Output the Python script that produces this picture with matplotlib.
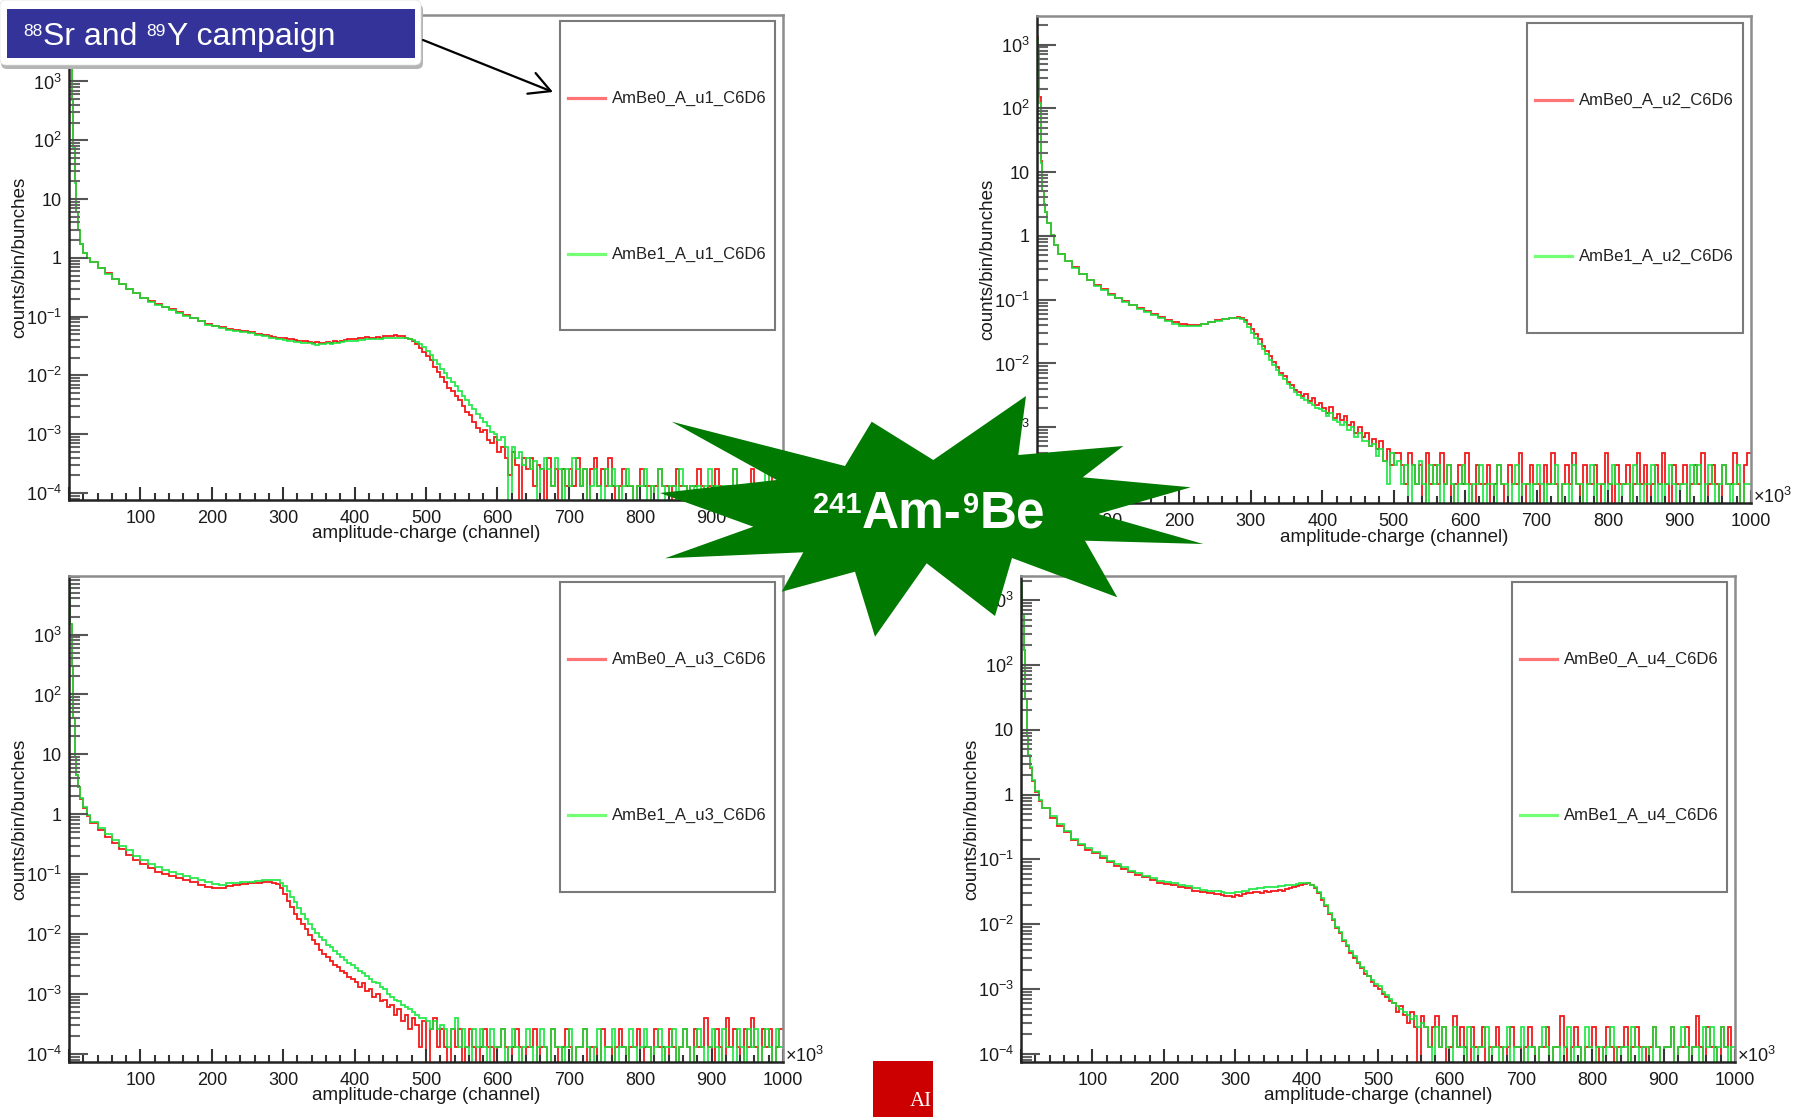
import numpy as np
import matplotlib
matplotlib.use('Agg')
import matplotlib.pyplot as plt
from matplotlib.patches import Polygon, Rectangle, FancyBboxPatch, FancyArrowPatch
from matplotlib.lines import Line2D
from matplotlib.transforms import Affine2D
from matplotlib.ticker import MultipleLocator, LogLocator, FuncFormatter, NullFormatter

plt.rcParams['font.family'] = ['Liberation Sans', 'DejaVu Sans']
plt.rcParams['mathtext.fontset'] = 'custom'
plt.rcParams['mathtext.rm'] = 'Liberation Sans'
plt.rcParams['mathtext.it'] = 'Liberation Sans:italic'
plt.rcParams['mathtext.bf'] = 'Liberation Sans:bold'

# ---------------- data ----------------
# bin edges (channels): fine head, 10-channel bins to 280, 5-channel bins to 1000
EDGES = ([0, 2, 4, 6, 8, 10, 12, 15, 20, 25, 30]
         + list(range(40, 281, 10)) + list(range(285, 1001, 5)))

X_LABEL = 'amplitude-charge (channel)'
Y_LABEL = 'counts/bin/bunches'
RED_LABELS = ['AmBe0_A_u1_C6D6', 'AmBe0_A_u2_C6D6', 'AmBe0_A_u3_C6D6', 'AmBe0_A_u4_C6D6']
GREEN_LABELS = ['AmBe1_A_u1_C6D6', 'AmBe1_A_u2_C6D6', 'AmBe1_A_u3_C6D6', 'AmBe1_A_u4_C6D6']
Y_LIMS = [(7.6e-5, 1.35e4), (6.5e-5, 2.8e3), (7.3e-5, 9.5e3), (7.5e-5, 2.35e3)]

U1_RED = [4000, 2000, 500, 80, 20, 6, 3, 1.7, 1.2, 1.0,
          0.85, 0.68, 0.55, 0.44, 0.36, 0.30, 0.25, 0.21, 0.185, 0.165, 0.148, 0.133, 0.12,
          0.107, 0.095, 0.085, 0.076, 0.07, 0.066, 0.062, 0.059, 0.056, 0.054, 0.051, 0.048,
          0.046, 0.045, 0.044, 0.044, 0.043, 0.041, 0.041, 0.040, 0.039, 0.039, 0.038, 0.037,
          0.036, 0.037, 0.036, 0.035, 0.037, 0.036, 0.038, 0.037, 0.039, 0.040, 0.041, 0.042,
          0.042, 0.043, 0.043, 0.045, 0.044, 0.043, 0.045, 0.044, 0.046, 0.047, 0.046, 0.048,
          0.046, 0.046, 0.044, 0.041, 0.038, 0.034, 0.029, 0.025, 0.021, 0.018, 0.014, 0.0115,
          0.0095, 0.0078, 0.0062, 0.0055, 0.0045, 0.0038, 0.003, 0.0024, 0.0021, 0.0016, 0.0013, 0.0011,
          0.0012, 8e-4, 7e-4, 9e-4, 5e-4, 6e-4, 4e-4, 2e-4, 5e-4, 3e-4, 0, 4e-4,
          2.6e-4, 4e-4, 1.3e-4, 3e-4, 2.6e-4, 0, 3.9e-4, 1.3e-4, 2.6e-4, 0, 2.6e-4, 1.3e-4,
          2.6e-4, 1.3e-4, 3.9e-4, 1.3e-4, 2.6e-4, 0, 2.6e-4, 3.9e-4, 1.3e-4, 2.6e-4, 1.3e-4, 3.9e-4,
          1.3e-4, 0, 1.3e-4, 2.6e-4, 1.3e-4, 1.3e-4, 0, 1.3e-4, 2.6e-4, 1.3e-4, 1.3e-4, 0,
          1.3e-4, 2.6e-4, 1.3e-4, 1.3e-4, 0, 1.3e-4, 2.6e-4, 1.3e-4, 1.3e-4, 0, 1.3e-4, 1.3e-4,
          2.6e-4, 1.3e-4, 0, 1.3e-4, 1.3e-4, 2.6e-4, 1.3e-4, 0, 1.3e-4, 1.3e-4, 2.6e-4, 1.3e-4,
          0, 1.3e-4, 1.3e-4, 2.6e-4, 1.3e-4, 1.3e-4, 0, 1.3e-4, 2.6e-4, 1.3e-4, 1.3e-4, 0]
U1_GREEN = [4000, 1900, 480, 78, 19, 6, 3, 1.7, 1.2, 1.0,
            0.85, 0.67, 0.54, 0.44, 0.36, 0.30, 0.25, 0.21, 0.18, 0.16, 0.145, 0.13, 0.117,
            0.104, 0.093, 0.083, 0.073, 0.068, 0.064, 0.060, 0.057, 0.054, 0.052, 0.049, 0.046,
            0.044, 0.043, 0.042, 0.041, 0.040, 0.039, 0.038, 0.037, 0.037, 0.036, 0.035, 0.035,
            0.034, 0.033, 0.034, 0.034, 0.035, 0.034, 0.036, 0.035, 0.037, 0.038, 0.038, 0.039,
            0.039, 0.040, 0.040, 0.041, 0.041, 0.041, 0.042, 0.042, 0.043, 0.043, 0.044, 0.044,
            0.044, 0.044, 0.043, 0.042, 0.040, 0.037, 0.034, 0.030, 0.026, 0.022, 0.018, 0.0155,
            0.013, 0.011, 0.0092, 0.0078, 0.0065, 0.0055, 0.0045, 0.0038, 0.0032, 0.0027, 0.0022, 0.0019,
            0.0016, 0.0014, 0.0011, 0.001, 8e-4, 9e-4, 6e-4, 0, 6e-4, 4e-4, 5e-4, 3e-4,
            4e-4, 2.6e-4, 3.5e-4, 0, 2.6e-4, 3.9e-4, 2.6e-4, 1.3e-4, 3.9e-4, 2.6e-4, 0, 2.6e-4,
            1.3e-4, 3.9e-4, 2.6e-4, 1.3e-4, 2.6e-4, 0, 1.3e-4, 2.6e-4, 1.3e-4, 0, 2.6e-4, 1.3e-4,
            2.6e-4, 1.3e-4, 0, 1.3e-4, 2.6e-4, 1.3e-4, 0, 1.3e-4, 1.3e-4, 2.6e-4, 0, 1.3e-4,
            0, 2.6e-4, 1.3e-4, 0, 1.3e-4, 1.3e-4, 0, 2.6e-4, 1.3e-4, 0, 1.3e-4, 0,
            1.3e-4, 0, 1.3e-4, 2.6e-4, 0, 1.3e-4, 0, 1.3e-4, 1.3e-4, 0, 2.6e-4, 0,
            1.3e-4, 0, 1.3e-4, 0, 1.3e-4, 1.3e-4, 0, 2.6e-4, 0, 1.3e-4, 0, 1.3e-4]

U2_RED = [1300, 800, 150, 15, 5, 3.2, 2.4, 1.6, 1.05, 0.72,
          0.52, 0.40, 0.32, 0.25, 0.20, 0.17, 0.145, 0.125, 0.108, 0.095, 0.084, 0.074, 0.066,
          0.059, 0.053, 0.048, 0.044, 0.041, 0.040, 0.040, 0.042, 0.045, 0.048, 0.050, 0.052,
          0.053, 0.052, 0.048, 0.042, 0.035, 0.029, 0.024, 0.019, 0.0155, 0.013, 0.0105, 0.0088,
          0.0072, 0.0064, 0.0052, 0.0046, 0.0039, 0.0036, 0.0031, 0.0033, 0.0026, 0.0029, 0.0022, 0.0024,
          0.002, 0.0017, 0.0021, 0.0014, 0.0016, 0.0013, 0.0015, 0.0011, 0.0012, 8e-4, 0.001, 7e-4,
          8e-4, 5e-4, 6.5e-4, 4.5e-4, 6e-4, 3e-4, 4.5e-4, 2.6e-4, 4e-4, 3.9e-4, 2.6e-4, 1.3e-4,
          3.9e-4, 2.6e-4, 1.3e-4, 2.6e-4, 0, 3.9e-4, 1.3e-4, 2.6e-4, 1.3e-4, 3.9e-4, 1.3e-4, 2.6e-4,
          0, 1.3e-4, 2.6e-4, 1.3e-4, 3.9e-4, 1.3e-4, 0, 2.6e-4, 1.3e-4, 1.3e-4, 2.6e-4, 0,
          1.3e-4, 2.6e-4, 1.3e-4, 0, 2.6e-4, 1.3e-4, 1.3e-4, 3.9e-4, 0, 1.3e-4, 2.6e-4, 1.3e-4,
          1.3e-4, 0, 2.6e-4, 1.3e-4, 3.9e-4, 1.3e-4, 0, 1.3e-4, 2.6e-4, 1.3e-4, 3.9e-4, 1.3e-4,
          0, 2.6e-4, 1.3e-4, 1.3e-4, 2.6e-4, 0, 1.3e-4, 3.9e-4, 1.3e-4, 0, 2.6e-4, 1.3e-4,
          1.3e-4, 2.6e-4, 0, 1.3e-4, 3.9e-4, 1.3e-4, 2.6e-4, 0, 1.3e-4, 2.6e-4, 1.3e-4, 3.9e-4,
          1.3e-4, 0, 2.6e-4, 1.3e-4, 1.3e-4, 2.6e-4, 0, 1.3e-4, 2.6e-4, 1.3e-4, 3.9e-4, 0,
          1.3e-4, 2.6e-4, 1.3e-4, 0, 2.6e-4, 1.3e-4, 1.3e-4, 3.9e-4, 1.3e-4, 0, 2.6e-4, 3.9e-4]
U2_GREEN = [1200, 900, 120, 14, 5, 3.2, 2.4, 1.6, 1.05, 0.72,
            0.52, 0.40, 0.31, 0.25, 0.20, 0.165, 0.14, 0.12, 0.105, 0.092, 0.082, 0.072, 0.064,
            0.057, 0.051, 0.046, 0.042, 0.039, 0.038, 0.039, 0.041, 0.044, 0.047, 0.049, 0.051,
            0.051, 0.049, 0.044, 0.037, 0.03, 0.025, 0.02, 0.017, 0.014, 0.0115, 0.0095, 0.008,
            0.0066, 0.0058, 0.0048, 0.0042, 0.0036, 0.0032, 0.0029, 0.0027, 0.0024, 0.0022, 0.002, 0.0019,
            0.0018, 0.0015, 0.0017, 0.0013, 0.0012, 0.0011, 0.0012, 9e-4, 0.001, 7e-4, 8e-4, 6e-4,
            6e-4, 5e-4, 5.5e-4, 3.5e-4, 4.5e-4, 3e-4, 1.3e-4, 3.9e-4, 2.6e-4, 3e-4, 1.3e-4, 2.6e-4,
            0, 2.6e-4, 1.3e-4, 3e-4, 1.3e-4, 0, 2.6e-4, 1.3e-4, 2.6e-4, 0, 1.3e-4, 2.6e-4,
            1.3e-4, 0, 1.3e-4, 2.6e-4, 1.3e-4, 0, 1.3e-4, 1.3e-4, 2.6e-4, 0, 1.3e-4, 1.3e-4,
            0, 2.6e-4, 1.3e-4, 1.3e-4, 0, 1.3e-4, 2.6e-4, 0, 1.3e-4, 1.3e-4, 0, 1.3e-4,
            2.6e-4, 1.3e-4, 0, 1.3e-4, 1.3e-4, 2.6e-4, 0, 1.3e-4, 1.3e-4, 0, 2.6e-4, 1.3e-4,
            1.3e-4, 0, 1.3e-4, 2.6e-4, 0, 1.3e-4, 1.3e-4, 0, 1.3e-4, 2.6e-4, 1.3e-4, 0,
            1.3e-4, 1.3e-4, 0, 2.6e-4, 1.3e-4, 0, 1.3e-4, 1.3e-4, 2.6e-4, 0, 1.3e-4, 0,
            1.3e-4, 2.6e-4, 1.3e-4, 0, 1.3e-4, 1.3e-4, 0, 2.6e-4, 1.3e-4, 2.6e-4, 0, 1.3e-4,
            2.6e-4, 1.3e-4, 0, 1.3e-4, 2.6e-4, 1.3e-4, 0, 1.3e-4, 2.6e-4, 0, 1.3e-4, 1.3e-4]

U3_RED = [6500, 1500, 300, 40, 9, 4.5, 2.8, 1.8, 1.25, 0.95,
          0.72, 0.55, 0.42, 0.33, 0.26, 0.21, 0.17, 0.145, 0.125, 0.11, 0.10, 0.092, 0.086,
          0.079, 0.073, 0.067, 0.061, 0.058, 0.059, 0.063, 0.066, 0.068, 0.070, 0.072, 0.074,
          0.073, 0.071, 0.068, 0.058, 0.046, 0.036, 0.028, 0.022, 0.018, 0.0145, 0.012, 0.0098,
          0.008, 0.0068, 0.0054, 0.0046, 0.0042, 0.0035, 0.003, 0.0028, 0.0024, 0.0022, 0.0019, 0.0018,
          0.0016, 0.0013, 0.0015, 0.0011, 0.0012, 9e-4, 0.001, 7.5e-4, 8e-4, 6e-4, 6.5e-4, 4.5e-4,
          5.5e-4, 3.5e-4, 4.5e-4, 2.6e-4, 3.9e-4, 3e-4, 1.3e-4, 3.5e-4, 0, 2.6e-4, 3.9e-4, 1.3e-4,
          2.6e-4, 1.3e-4, 0, 2.6e-4, 1.3e-4, 2.6e-4, 0, 1.3e-4, 2.6e-4, 1.3e-4, 0, 1.3e-4,
          2.6e-4, 1.3e-4, 1.3e-4, 0, 1.3e-4, 2.6e-4, 1.3e-4, 0, 1.3e-4, 2.6e-4, 1.3e-4, 0,
          1.3e-4, 1.3e-4, 2.6e-4, 0, 1.3e-4, 1.3e-4, 0, 2.6e-4, 1.3e-4, 0, 1.3e-4, 2.6e-4,
          1.3e-4, 0, 1.3e-4, 1.3e-4, 2.6e-4, 0, 1.3e-4, 1.3e-4, 0, 2.6e-4, 1.3e-4, 1.3e-4,
          0, 1.3e-4, 2.6e-4, 1.3e-4, 0, 1.3e-4, 1.3e-4, 2.6e-4, 0, 1.3e-4, 1.3e-4, 0,
          2.6e-4, 1.3e-4, 1.3e-4, 0, 2.6e-4, 1.3e-4, 0, 1.3e-4, 2.6e-4, 1.3e-4, 0, 2.6e-4,
          1.3e-4, 1.3e-4, 3.9e-4, 1.3e-4, 0, 2.6e-4, 1.3e-4, 0, 3.9e-4, 1.3e-4, 2.6e-4, 1.3e-4,
          0, 2.6e-4, 1.3e-4, 3.9e-4, 1.3e-4, 0, 2.6e-4, 1.3e-4, 2.6e-4, 0, 1.3e-4, 2.6e-4]
U3_GREEN = [6800, 1500, 300, 40, 9, 4.6, 2.9, 1.85, 1.3, 0.97,
            0.74, 0.58, 0.46, 0.37, 0.30, 0.25, 0.20, 0.17, 0.148, 0.13, 0.118, 0.108, 0.1,
            0.093, 0.087, 0.08, 0.073, 0.068, 0.067, 0.070, 0.072, 0.074, 0.075, 0.077, 0.079,
            0.080, 0.080, 0.079, 0.072, 0.063, 0.052, 0.042, 0.034, 0.027, 0.022, 0.018, 0.0148,
            0.012, 0.0105, 0.0088, 0.0078, 0.0066, 0.006, 0.0052, 0.0046, 0.0041, 0.0037, 0.0033, 0.003,
            0.0027, 0.0024, 0.0022, 0.002, 0.0018, 0.0016, 0.0015, 0.0013, 0.0012, 0.001, 9e-4, 8e-4,
            7.5e-4, 6.5e-4, 6e-4, 5.5e-4, 5e-4, 4.5e-4, 3.9e-4, 4e-4, 3.5e-4, 2.6e-4, 3.5e-4, 2.6e-4,
            3e-4, 2.6e-4, 1.3e-4, 2.6e-4, 3.9e-4, 1.3e-4, 2.6e-4, 1.3e-4, 0, 2.6e-4, 1.3e-4, 2.6e-4,
            1.3e-4, 0, 2.6e-4, 1.3e-4, 1.3e-4, 2.6e-4, 0, 1.3e-4, 2.6e-4, 1.3e-4, 0, 1.3e-4,
            2.6e-4, 1.3e-4, 0, 1.3e-4, 2.6e-4, 1.3e-4, 0, 2.6e-4, 1.3e-4, 1.3e-4, 0, 1.3e-4,
            2.6e-4, 0, 1.3e-4, 1.3e-4, 2.6e-4, 1.3e-4, 0, 1.3e-4, 2.6e-4, 0, 1.3e-4, 1.3e-4,
            2.6e-4, 0, 1.3e-4, 1.3e-4, 0, 2.6e-4, 1.3e-4, 0, 1.3e-4, 2.6e-4, 1.3e-4, 0,
            1.3e-4, 2.6e-4, 0, 1.3e-4, 1.3e-4, 2.6e-4, 0, 1.3e-4, 2.6e-4, 1.3e-4, 0, 1.3e-4,
            2.6e-4, 1.3e-4, 0, 1.3e-4, 2.6e-4, 1.3e-4, 0, 2.6e-4, 1.3e-4, 1.3e-4, 0, 2.6e-4,
            1.3e-4, 0, 2.6e-4, 1.3e-4, 2.6e-4, 0, 1.3e-4, 2.6e-4, 1.3e-4, 0, 2.6e-4, 1.3e-4]

U4_RED = [1500, 600, 170, 30, 8, 4, 2.6, 1.6, 1.1, 0.8,
          0.62, 0.44, 0.33, 0.26, 0.20, 0.165, 0.14, 0.125, 0.106, 0.09, 0.08, 0.071, 0.064,
          0.058, 0.053, 0.048, 0.044, 0.042, 0.040, 0.038, 0.036, 0.033, 0.031, 0.030, 0.029,
          0.028, 0.027, 0.027, 0.026, 0.028, 0.027, 0.029, 0.030, 0.030, 0.031, 0.031, 0.030,
          0.032, 0.031, 0.033, 0.032, 0.034, 0.033, 0.035, 0.036, 0.038, 0.039, 0.041, 0.042,
          0.043, 0.040, 0.036, 0.030, 0.024, 0.019, 0.0145, 0.0115, 0.0088, 0.0072, 0.0055, 0.0046,
          0.0036, 0.003, 0.0025, 0.0021, 0.0017, 0.0016, 0.0013, 0.0011, 0.0010, 8.5e-4, 7.5e-4, 6.5e-4,
          6e-4, 4.5e-4, 5.5e-4, 4e-4, 3e-4, 4.5e-4, 2.6e-4, 0, 3.9e-4, 2.6e-4, 1.3e-4, 2.6e-4,
          3.9e-4, 1.3e-4, 2.6e-4, 0, 1.3e-4, 3.9e-4, 1.3e-4, 2.6e-4, 1.3e-4, 0, 2.6e-4, 1.3e-4,
          1.3e-4, 2.6e-4, 0, 1.3e-4, 1.3e-4, 2.6e-4, 1.3e-4, 0, 1.3e-4, 2.6e-4, 1.3e-4, 1.3e-4,
          0, 1.3e-4, 2.6e-4, 1.3e-4, 0, 1.3e-4, 1.3e-4, 2.6e-4, 0, 1.3e-4, 1.3e-4, 3.9e-4,
          1.3e-4, 0, 1.3e-4, 2.6e-4, 1.3e-4, 0, 1.3e-4, 1.3e-4, 2.6e-4, 1.3e-4, 0, 1.3e-4,
          2.6e-4, 1.3e-4, 0, 1.3e-4, 1.3e-4, 2.6e-4, 0, 1.3e-4, 2.6e-4, 1.3e-4, 1.3e-4, 0,
          1.3e-4, 2.6e-4, 1.3e-4, 0, 1.3e-4, 1.3e-4, 2.6e-4, 0, 1.3e-4, 1.3e-4, 2.6e-4, 0,
          1.3e-4, 3.9e-4, 1.3e-4, 0, 2.6e-4, 1.3e-4, 1.3e-4, 0, 2.6e-4, 1.3e-4, 2.6e-4, 0]
U4_GREEN = [2000, 600, 170, 30, 8, 4.1, 2.7, 1.65, 1.12, 0.82,
            0.63, 0.46, 0.35, 0.27, 0.21, 0.175, 0.15, 0.132, 0.112, 0.096, 0.085, 0.075, 0.067,
            0.061, 0.056, 0.051, 0.047, 0.045, 0.043, 0.041, 0.039, 0.036, 0.034, 0.033, 0.032,
            0.031, 0.030, 0.030, 0.030, 0.031, 0.031, 0.033, 0.033, 0.035, 0.035, 0.036, 0.036,
            0.037, 0.037, 0.038, 0.038, 0.039, 0.039, 0.040, 0.040, 0.041, 0.042, 0.043, 0.044,
            0.044, 0.041, 0.037, 0.031, 0.025, 0.02, 0.015, 0.012, 0.0092, 0.0075, 0.0058, 0.0048,
            0.0038, 0.0032, 0.0026, 0.0022, 0.0019, 0.0016, 0.0014, 0.0012, 0.0011, 9e-4, 8e-4, 7e-4,
            6e-4, 5.5e-4, 5e-4, 4.5e-4, 4e-4, 3.5e-4, 3.9e-4, 2.6e-4, 3e-4, 2.6e-4, 1.3e-4, 0,
            2.6e-4, 1.3e-4, 2.6e-4, 1.3e-4, 0, 2.6e-4, 1.3e-4, 1.3e-4, 0, 2.6e-4, 1.3e-4, 0,
            1.3e-4, 1.3e-4, 2.6e-4, 0, 1.3e-4, 1.3e-4, 0, 1.3e-4, 2.6e-4, 0, 1.3e-4, 1.3e-4,
            2.6e-4, 0, 1.3e-4, 1.3e-4, 0, 1.3e-4, 2.6e-4, 1.3e-4, 0, 1.3e-4, 1.3e-4, 0,
            1.3e-4, 2.6e-4, 0, 1.3e-4, 1.3e-4, 0, 2.6e-4, 1.3e-4, 0, 1.3e-4, 1.3e-4, 0,
            1.3e-4, 2.6e-4, 1.3e-4, 0, 1.3e-4, 1.3e-4, 0, 2.6e-4, 1.3e-4, 0, 1.3e-4, 1.3e-4,
            0, 2.6e-4, 1.3e-4, 0, 1.3e-4, 1.3e-4, 2.6e-4, 0, 1.3e-4, 2.6e-4, 1.3e-4, 0,
            1.3e-4, 1.3e-4, 0, 2.6e-4, 1.3e-4, 2.6e-4, 0, 1.3e-4, 2.6e-4, 1.3e-4, 0, 1.3e-4]

RED_SERIES = [U1_RED, U2_RED, U3_RED, U4_RED]
GREEN_SERIES = [U1_GREEN, U2_GREEN, U3_GREEN, U4_GREEN]

# ---------------- layout (pixels, top-left origin) ----------------
W, H = 1797, 1117
AX_PX = [(69, 15, 783, 500), (1036.5, 16, 1751, 503), (69, 576, 783, 1062), (1021, 576, 1735, 1062)]
LEG_PX = [(560, 21, 775, 330), (1527, 23, 1743, 333), (560, 582, 775, 892), (1512, 582, 1727, 892)]

RED = '#f20000'
GREEN = '#12e63a'

fig = plt.figure(figsize=(W / 100, H / 100), dpi=100)
T = Affine2D().scale(1, -1).translate(0, H)   # pixel coords, origin top-left


def yfmt(v, pos):
    e = int(round(np.log10(v)))
    if e == 0:
        return '1'
    if e == 1:
        return '10'
    return r'$10^{%d}$' % e


def xfmt(v, pos):
    return '' if v < 50 else '%d' % v


def fit(vals, n):
    vals = list(vals)[:n]
    return vals + [0] * (n - len(vals))


nb = len(EDGES) - 1
for i in range(4):
    l, t, r, b = AX_PX[i]
    ax = fig.add_axes([l / W, 1 - b / H, (r - l) / W, (b - t) / H])
    red = np.array(fit(RED_SERIES[i], nb), dtype=float)
    grn = np.array(fit(GREEN_SERIES[i], nb), dtype=float)
    ax.stairs(np.where(red > 0, red, 1e-9), EDGES, color=RED, lw=1.3, alpha=0.9, baseline=None)
    ax.stairs(np.where(grn > 0, grn, 1e-9), EDGES, color=GREEN, lw=1.3, alpha=0.9, baseline=None)
    ax.set_yscale('log')
    ax.set_xlim(0, 1000)
    ax.set_ylim(*Y_LIMS[i])
    ax.xaxis.set_major_locator(MultipleLocator(100))
    ax.xaxis.set_minor_locator(MultipleLocator(20))
    ax.xaxis.set_major_formatter(FuncFormatter(xfmt))
    ax.yaxis.set_major_locator(LogLocator(base=10, numticks=100))
    ax.yaxis.set_minor_locator(LogLocator(base=10, subs=np.arange(2, 10), numticks=100))
    ax.yaxis.set_major_formatter(FuncFormatter(yfmt))
    ax.yaxis.set_minor_formatter(NullFormatter())
    ax.tick_params(axis='y', which='major', direction='in', length=14, width=1.5,
                   color='#555555', labelsize=13, pad=5, labelcolor='#1a1a1a')
    ax.tick_params(axis='y', which='minor', direction='in', length=8, width=1.5, color='#666666')
    ax.tick_params(axis='x', which='major', direction='in', length=9.5, width=1.5,
                   color='#333333', labelsize=13, pad=7, labelcolor='#1a1a1a')
    ax.tick_params(axis='x', which='minor', direction='in', length=5, width=1.5, color='#333333')
    for s in ('left', 'bottom'):
        ax.spines[s].set_color('#222222')
        ax.spines[s].set_linewidth(1.8)
    for s in ('top', 'right'):
        ax.spines[s].set_color('#8c8c8c')
        ax.spines[s].set_linewidth(1.8)
    # axis titles and x10^3 marker
    fig.add_artist(plt.Text((l + r) / 2, b + 34, X_LABEL, ha='center', va='center',
                            fontsize=13.5, color='#1a1a1a', transform=T))
    fig.add_artist(plt.Text(l - 49, (t + b) / 2, Y_LABEL, ha='center', va='center',
                            rotation=90, fontsize=13.5, color='#1a1a1a', transform=T))
    fig.add_artist(plt.Text(r + 2, b - 6, r'$\times10^{3}$', ha='left', va='center',
                            fontsize=13, color='#1a1a1a', transform=T))
    # legend box
    lx0, ly0, lx1, ly1 = LEG_PX[i]
    fig.add_artist(Rectangle((lx0, ly0), lx1 - lx0, ly1 - ly0, fc='white', ec='#7a7a7a',
                             lw=1.5, transform=T, zorder=5))
    for dy, lab, col in ((77, RED_LABELS[i], '#ff7474'), (233, GREEN_LABELS[i], '#74ff74')):
        fig.add_artist(Line2D([lx0 + 8, lx0 + 45], [ly0 + dy, ly0 + dy], color=col, lw=2.3,
                              transform=T, zorder=6))
        fig.add_artist(plt.Text(lx0 + 52, ly0 + dy, lab, ha='left', va='center', fontsize=12,
                                color='#222222', transform=T, zorder=6))

renderer = fig.canvas.get_renderer()


def rich(parts, x, base, color, weight='normal', zorder=40, family=None):
    """parts: list of (text, size_pt, raise_px, gap_after_px)"""
    arts = []
    for s, size, rz, gap in parts:
        kw = dict(ha='left', va='baseline', fontsize=size, color=color, fontweight=weight,
                  transform=T, zorder=zorder)
        if family:
            kw['family'] = family
        tx = plt.Text(x, base - rz, s, **kw)
        fig.add_artist(tx)
        tx.set_figure(fig)
        w = tx.get_window_extent(renderer).width
        x += w + gap
        arts.append(tx)
    return arts

# ---- header box ----
fig.add_artist(FancyBboxPatch((1, 4), 422, 65, boxstyle='round,pad=0,rounding_size=6',
                              fc='#b4b4b4', ec='none', transform=T, zorder=30))
fig.add_artist(FancyBboxPatch((0, 0), 421, 65, boxstyle='round,pad=0,rounding_size=6',
                              fc='white', ec='#e0e0e0', lw=0.5, transform=T, zorder=31))
fig.add_artist(Rectangle((7, 9), 408, 49, fc='#333399', ec='none', transform=T, zorder=32))
rich([('88', 12.5, 8.5, 1), ('Sr and', 23, 0, 9), ('89', 12.5, 8.5, 1), ('Y campaign', 23, 0, 0)],
     23, 45, 'white', zorder=33)

# ---- arrow ----
fig.add_artist(FancyArrowPatch((423, 40), (553, 92), arrowstyle='->,head_length=0.75,head_width=0.4',
                               mutation_scale=20, lw=1.6, color='black', shrinkA=0, shrinkB=0,
                               transform=T, zorder=34))

# ---- star ----
STAR = [(871.7, 421.7), (933.3, 460), (1026, 396), (1018.3, 455), (1123.3, 446), (1082.7, 477.3),
        (1190.7, 487.3), (1098, 514), (1203.3, 544), (1085, 540.7), (1117.3, 597.3), (1012, 558),
        (995, 616), (926.7, 563.3), (875, 636.7), (855, 571.7), (781.7, 591.7), (803.3, 552.3),
        (665, 558.3), (753.3, 526.7), (660, 493), (776.7, 480), (671.7, 421.7), (845, 466)]
fig.add_artist(Polygon(STAR, closed=True, fc='#007a00', ec='none', transform=T, zorder=20))
star_parts = [('241', 21, 15, 1), ('Am-', 37, 0, 1), ('9', 21, 15, 1), ('Be', 37, 0, 0)]
arts = rich(star_parts, 0, 528, 'white', weight='bold', zorder=21)
x0 = arts[0].get_window_extent(renderer).x0
x1 = arts[-1].get_window_extent(renderer).x1
shift = 929 - (x0 + x1) / 2
for a in arts:
    px, py = a.get_position()
    a.set_position((px + shift, py))

# ---- red box bottom ----
rb = Rectangle((873, 1061), 60, 56, fc='#cc0000', ec='none', transform=T, zorder=20)
fig.add_artist(rb)
ta = plt.Text(910, 1106, 'AI', ha='left', va='baseline', fontsize=15, color='white',
              family='Liberation Serif', transform=T, zorder=21)
fig.add_artist(ta)
ta.set_clip_path(rb)

fig.savefig('out.png', dpi=100, facecolor='white')
